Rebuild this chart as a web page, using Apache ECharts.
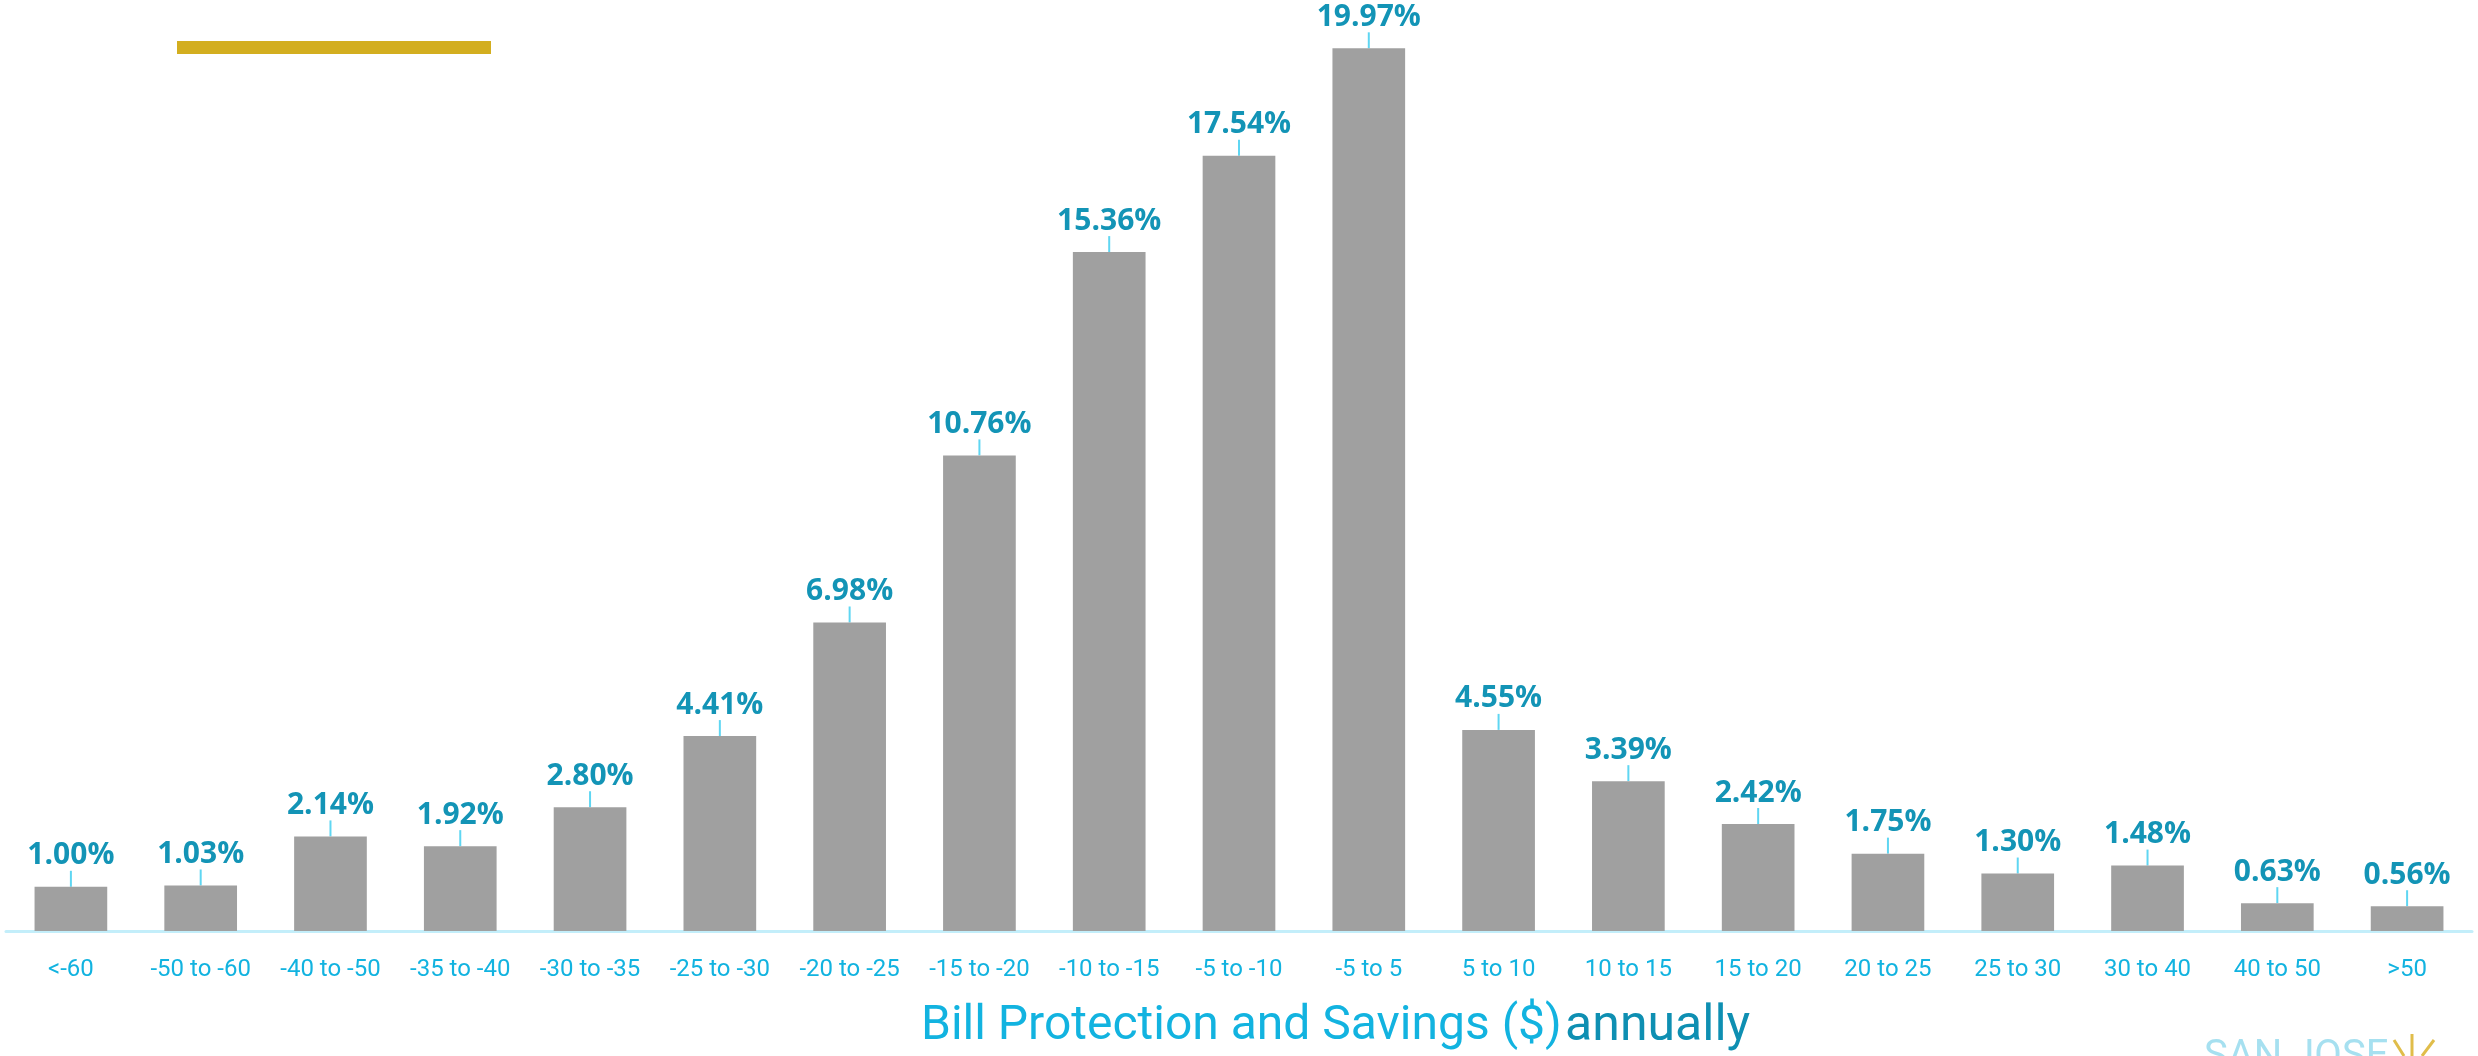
<!DOCTYPE html>
<html>
<head>
<meta charset="utf-8">
<script src="https://cdn.jsdelivr.net/npm/echarts@6/dist/echarts.min.js"></script>
<style>
  html, body { margin: 0; padding: 0; background: #fff; }
  #chart { width: 2478px; height: 1056px; }
</style>
</head>
<body>
<div id="chart"></div>
<script>
// savings buckets ($ per year) and share of customers (%)
var categories = ['<-60', '-50 to -60', '-40 to -50', '-35 to -40', '-30 to -35', '-25 to -30',
  '-20 to -25', '-15 to -20', '-10 to -15', '-5 to -10', '-5 to 5', '5 to 10', '10 to 15',
  '15 to 20', '20 to 25', '25 to 30', '30 to 40', '40 to 50', '>50'];
var shares = [1.00, 1.03, 2.14, 1.92, 2.80, 4.41, 6.98, 10.76, 15.36, 17.54, 19.97,
  4.55, 3.39, 2.42, 1.75, 1.30, 1.48, 0.63, 0.56];

var chart = echarts.init(document.getElementById('chart'));

chart.setOption({
  backgroundColor: '#ffffff',
  animation: false,
  grid: { left: 6, right: 6, top: 47, bottom: 125 },
  xAxis: {
    type: 'category',
    data: categories,
    axisLine: { lineStyle: { color: '#c3eefa', width: 3 } },
    axisTick: { show: false },
    axisLabel: {
      color: '#12b3e0',
      fontFamily: 'Roboto',
      fontSize: 24,
      margin: 27,
      interval: 0
    }
  },
  yAxis: {
    type: 'value',
    min: 0,
    max: 20,
    show: false,
    splitLine: { show: false }
  },
  series: [{
    type: 'bar',
    data: shares,
    barWidth: '56%',
    itemStyle: { color: '#a0a0a0' },
    label: {
      show: true,
      position: 'top',
      distance: 4,
      color: '#1394b6',
      fontFamily: 'Open Sans',
      fontWeight: 'bold',
      fontSize: 30,
      formatter: function (p) { return p.value.toFixed(2) + '%'; }
    },
    labelLayout: { dy: -12 },
    labelLine: { show: true, lineStyle: { color: '#5fd6f2', width: 2 } }
  }],
  graphic: [
    // gold accent bar top-left
    { type: 'rect', left: 177, top: 41, shape: { width: 314, height: 13 }, style: { fill: '#d3ae1f' } },
    // axis title
    {
      type: 'text', left: 921, top: 1002,
      style: {
        text: '{a|Bill Protection and Savings ($)} {b|annually}',
        rich: {
          a: { fontFamily: 'Roboto', fontSize: 48, fill: '#12b3e0' },
          b: { fontFamily: 'Roboto', fontSize: 50, fill: '#0e8fb2' }
        }
      }
    },
    // logo, cut at bottom edge
    {
      type: 'text', left: 2204, top: 1038,
      style: { text: 'SAN JOSE', fontFamily: 'Roboto', fontSize: 40, fill: '#a6e0f0' }
    },
    { type: 'line', shape: { x1: 2412, y1: 1034, x2: 2412, y2: 1056 }, style: { stroke: '#e0bd4a', lineWidth: 3 } },
    { type: 'line', shape: { x1: 2394, y1: 1040, x2: 2404, y2: 1056 }, style: { stroke: '#e0bd4a', lineWidth: 3 } },
    { type: 'line', shape: { x1: 2434, y1: 1040, x2: 2422, y2: 1056 }, style: { stroke: '#e0bd4a', lineWidth: 3 } }
  ]
});
</script>
</body>
</html>
